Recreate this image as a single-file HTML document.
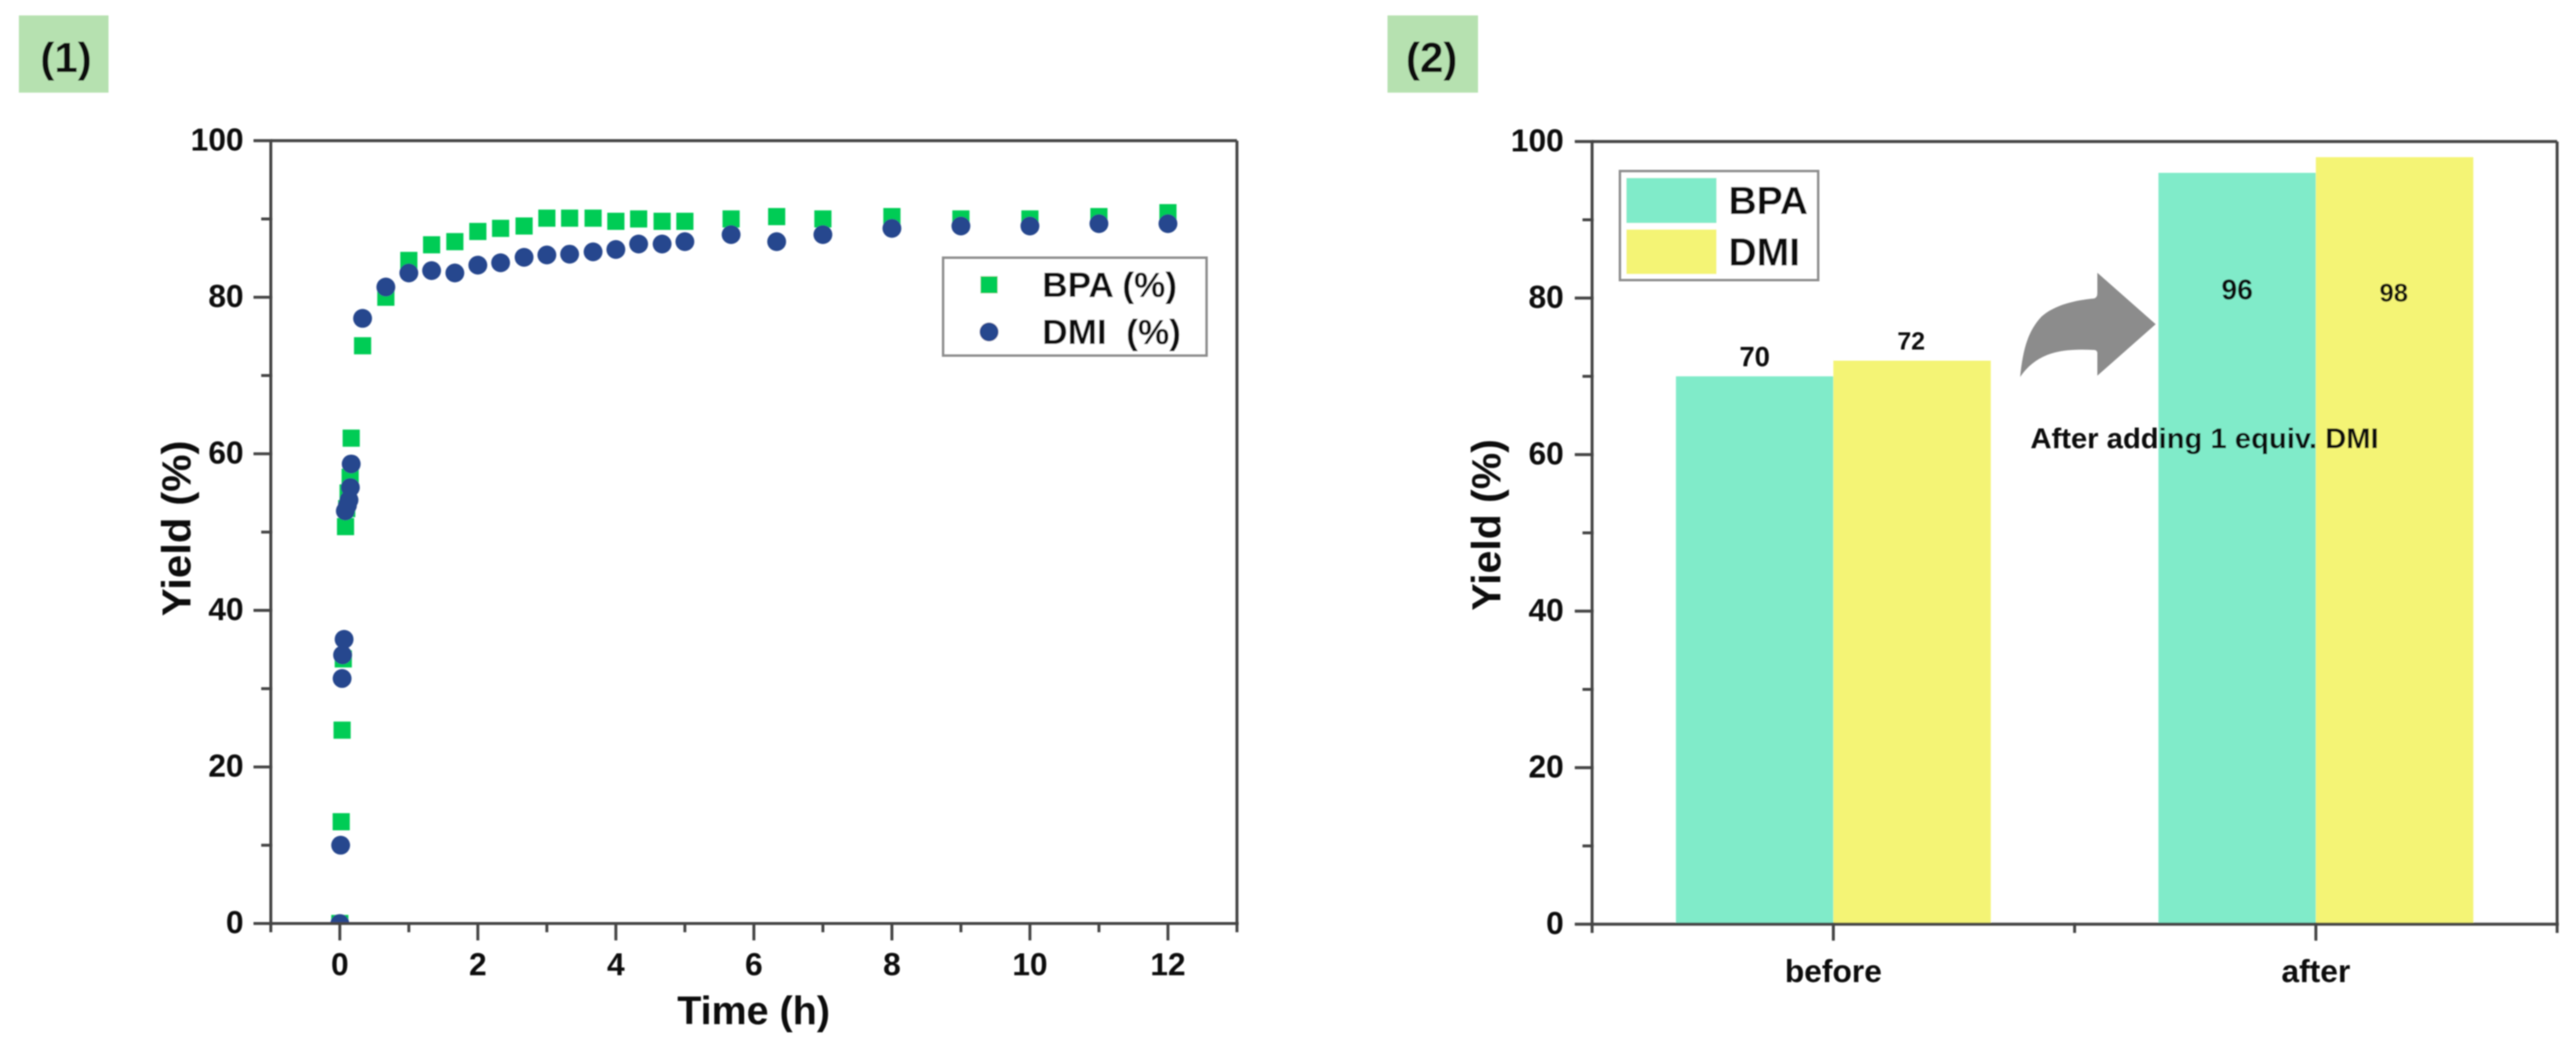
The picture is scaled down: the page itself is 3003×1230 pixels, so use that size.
<!DOCTYPE html>
<html lang="en">
<head>
<meta charset="utf-8">
<title>Yield charts</title>
<style>
  html, body { margin: 0; padding: 0; background: #fff; }
  body { width: 3003px; height: 1230px; overflow: hidden; }
  svg { display: block; }
  text { font-family: "Liberation Sans", Arial, sans-serif; font-weight: bold; fill: #0c0c0c; white-space: pre; }
</style>
</head>
<body>
<svg id="figure" xmlns="http://www.w3.org/2000/svg" width="3003" height="1230" viewBox="0 0 3003 1230">
  <defs>
    <filter id="soft" x="-2%" y="-2%" width="104%" height="104%"><feGaussianBlur stdDeviation="0.7"/></filter>
    <clipPath id="plot1-clip"><rect x="315" y="164" width="1128" height="912"/></clipPath>
  </defs>
  <rect x="0" y="0" width="3003" height="1230" fill="#ffffff"/>
  <g id="root" filter="url(#soft)">
    <g>
      <rect x="22" y="18" width="104.5" height="90" fill="#b6e1b0"/>
      <text x="77" y="84" font-size="49" text-anchor="middle">(1)</text>
    </g>
    <g>
      <rect x="1617.5" y="18" width="105.5" height="90" fill="#b6e1b0"/>
      <text x="1669" y="84" font-size="49" text-anchor="middle">(2)</text>
    </g>

    <!-- Chart 1 -->
    <g id="chart1">
      <g id="c1-marks" clip-path="url(#plot1-clip)"></g>
      <g id="c1-axes"></g>
      <text x="222" y="616" font-size="47" text-anchor="middle" textLength="205" lengthAdjust="spacingAndGlyphs" transform="rotate(-90 222 616)">Yield (%)</text>
      <text x="878.5" y="1194" font-size="46" text-anchor="middle">Time (h)</text>
      <g>
        <rect x="1099.5" y="300.5" width="307" height="114" fill="#ffffff" stroke="#8f8f8f" stroke-width="3"/>
        <rect x="1143" y="322" width="20" height="20" fill="#00cc55"/>
        <circle cx="1153" cy="387" r="11" fill="#26478e"/>
        <text x="1215" y="346" font-size="41">BPA (%)</text>
        <text x="1215" y="401" font-size="41">DMI  (%)</text>
      </g>
    </g>

    <!-- Chart 2 -->
    <g id="chart2">
      <g id="c2-bars"></g>
      <g id="c2-axes"></g>
      <g id="c2-labels"></g>
      <text x="1749" y="612" font-size="47" text-anchor="middle" textLength="200" lengthAdjust="spacingAndGlyphs" transform="rotate(-90 1749 612)">Yield (%)</text>
      <g>
        <rect x="1888.5" y="199.5" width="231" height="127" fill="#ffffff" stroke="#8f8f8f" stroke-width="3"/>
        <rect x="1896" y="207.5" width="105" height="52.5" fill="#80ebc9"/>
        <rect x="1896" y="267.5" width="105" height="52" fill="#f4f474"/>
        <text x="2015" y="249.5" font-size="45.5">BPA</text>
        <text x="2015" y="309.5" font-size="45.5">DMI</text>
      </g>
      <path d="M2355 439.5 C2358 410 2363 387 2380 369 C2396 355 2420 350 2441 348 Q2445 347 2445 342 L2445 318 L2513 378 L2445 438 L2445 412 Q2445 408 2441 408 C2405 406 2375 410 2355 439.5 Z" fill="#8c8c8c"/>
      <text x="2367" y="522.5" font-size="33.5" textLength="406" lengthAdjust="spacingAndGlyphs">After adding 1 equiv. DMI</text>
    </g>
  </g>
</svg>
<script>
// ---- Chart 1 data ----
const bpaTime = [0, 0.02, 0.033, 0.05, 0.083, 0.1, 0.12, 0.15, 0.165, 0.33, 0.667, 1, 1.33, 1.667, 2, 2.33, 2.67, 3, 3.33, 3.67, 4, 4.33, 4.67, 5, 5.67, 6.33, 7, 8, 9, 10, 11, 12];
const bpaYield = [0, 13, 24.7, 33.8, 50.7, 53, 55, 57, 62, 73.8, 80, 84.7, 86.7, 87.1, 88.4, 88.8, 89.1, 90.1, 90.1, 90.1, 89.7, 90, 89.7, 89.7, 90, 90.3, 90, 90.3, 90, 90, 90.3, 90.8];
const dmiTime = [0, 0.012, 0.033, 0.04, 0.062, 0.08, 0.11, 0.133, 0.153, 0.165, 0.33, 0.667, 1, 1.33, 1.667, 2, 2.33, 2.67, 3, 3.33, 3.67, 4, 4.33, 4.67, 5, 5.67, 6.33, 7, 8, 9, 10, 11, 12];
const dmiYield = [0, 10, 31.3, 34.3, 36.3, 52.7, 53.4, 54.1, 55.7, 58.7, 77.3, 81.3, 83.1, 83.4, 83.1, 84.1, 84.4, 85.1, 85.4, 85.5, 85.8, 86.1, 86.8, 86.8, 87.1, 88, 87.1, 88, 88.8, 89.1, 89.1, 89.4, 89.4];
const timeTickLabels = ['0', '2', '4', '6', '8', '10', '12'];
const yieldTickLabels = ['0', '20', '40', '60', '80', '100'];

// ---- Chart 2 data ----
const phases = ['before', 'after'];
const bpaBars = [70, 96];
const dmiBars = [72, 98];

const NS = 'http://www.w3.org/2000/svg';
function mk(tag, parent, attrs, txt) {
  const el = document.createElementNS(NS, tag);
  for (const k in attrs) el.setAttribute(k, attrs[k]);
  if (txt !== undefined) el.textContent = txt;
  parent.appendChild(el);
  return el;
}

// Axis functions
const x1 = t => 315.7 + (t + 1) * (1442 - 315.7) / 14;
const y1 = v => 1076.7 - v * (1076.7 - 164) / 100;
const x2 = c => 1856 + (c - 0.5) * (2981 - 1856) / 2;
const y2 = v => 1077.5 - v * (1077.5 - 165) / 100;

const AXIS = '#454545';
const AXW = 3.4;

function line(parent, a, b, c, d, w) {
  return mk('line', parent, { x1: a, y1: b, x2: c, y2: d, stroke: AXIS, 'stroke-width': w || AXW, 'stroke-linecap': 'square' });
}

function yAxis(parent, scale, xLeft, xRight, labelRight, chartKey) {
  const left = mk('line', parent, { x1: xLeft, y1: scale(100), x2: xLeft, y2: scale(0), stroke: AXIS, 'stroke-width': AXW });
  
  
  const top = mk('line', parent, { x1: xLeft, y1: scale(100), x2: xRight, y2: scale(100), stroke: AXIS, 'stroke-width': AXW });
  
  
  const right = mk('line', parent, { x1: xRight, y1: scale(100), x2: xRight, y2: scale(0), stroke: AXIS, 'stroke-width': AXW });
  
  
  for (let v = 0; v <= 100; v += 10) {
    const major = v % 20 === 0;
    const tick = line(parent, xLeft, scale(v), xLeft - (major ? 18.5 : 9.5), scale(v));
    
    
  }
  yieldTickLabels.forEach(lab => {
    const t = mk('text', parent, { x: labelRight, y: scale(+lab) + 11.5, 'font-size': 37, 'text-anchor': 'end' }, lab);
    
    
  });
}

// ---- Build chart 1 ----
const marks1 = document.getElementById('c1-marks');
bpaTime.forEach((t, i) => {
  const r = mk('rect', marks1, { x: x1(t) - 10, y: y1(bpaYield[i]) - 10, width: 20, height: 20, fill: '#00cc55' });
  
  
});
dmiTime.forEach((t, i) => {
  const c = mk('circle', marks1, { cx: x1(t), cy: y1(dmiYield[i]), r: 11, fill: '#26478e' });
  
  
});

const ax1 = document.getElementById('c1-axes');
yAxis(ax1, y1, x1(-1), x1(13), 284, 'chart-1');
const bottom1 = mk('line', ax1, { x1: x1(-1) - 2, y1: y1(0), x2: x1(13) + 2, y2: y1(0), stroke: AXIS, 'stroke-width': AXW });


for (let t = -1; t <= 13; t += 1) {
  const major = t % 2 === 0;
  const tick = line(ax1, x1(t), y1(0), x1(t), y1(0) + (major ? 18 : 8.5));
  
  
}
timeTickLabels.forEach(lab => {
  const t = mk('text', ax1, { x: x1(+lab), y: 1137, 'font-size': 37, 'text-anchor': 'middle' }, lab);
  
  
});

// ---- Build chart 2 ----
const barsG = document.getElementById('c2-bars');
const labelsG = document.getElementById('c2-labels');
const barW = 183.5;
function labelStyle(seriesIndex, catIndex) {
  // The value labels were placed by hand in the original figure
  if (catIndex === 0) return seriesIndex === 0 ? { dy: -12, size: 32 } : { dy: -13, size: 29 };
  return seriesIndex === 0 ? { dy: 147.6, size: 33 } : { dy: 168, size: 30 };
}
phases.forEach((name, i) => {
  const c = i + 1;
  const series = [[bpaBars[i], '#80ebc9', 'bpa', x2(c) - barW], [dmiBars[i], '#f4f474', 'dmi', x2(c)]];
  series.forEach((s, si) => {
    const r = mk('rect', barsG, { x: s[3], y: y2(s[0]), width: barW, height: y2(0) - y2(s[0]), fill: s[1] });
    
    
    const st = labelStyle(si, i);
    const t = mk('text', labelsG, { x: s[3] + barW / 2 - (si === 1 ? 1 : 0), y: y2(s[0]) + st.dy, 'font-size': st.size, 'text-anchor': 'middle' }, String(s[0]));
    
    
  });
});

const ax2 = document.getElementById('c2-axes');
yAxis(ax2, y2, x2(0.5), x2(2.5), 1823, 'chart-2');
const bottom2 = mk('line', ax2, { x1: x2(0.5) - 2, y1: y2(0), x2: x2(2.5) + 2, y2: y2(0), stroke: AXIS, 'stroke-width': AXW });


for (let c = 0.5; c <= 2.5; c += 0.5) {
  const major = c === 1 || c === 2;
  const tick = line(ax2, x2(c), y2(0), x2(c), y2(0) + (major ? 17.5 : 8.5));
  
  
}
phases.forEach((name, i) => {
  const t = mk('text', ax2, { x: x2(i + 1), y: 1145, 'font-size': 37, 'text-anchor': 'middle' }, name);
  
  
});
</script>
</body>
</html>
